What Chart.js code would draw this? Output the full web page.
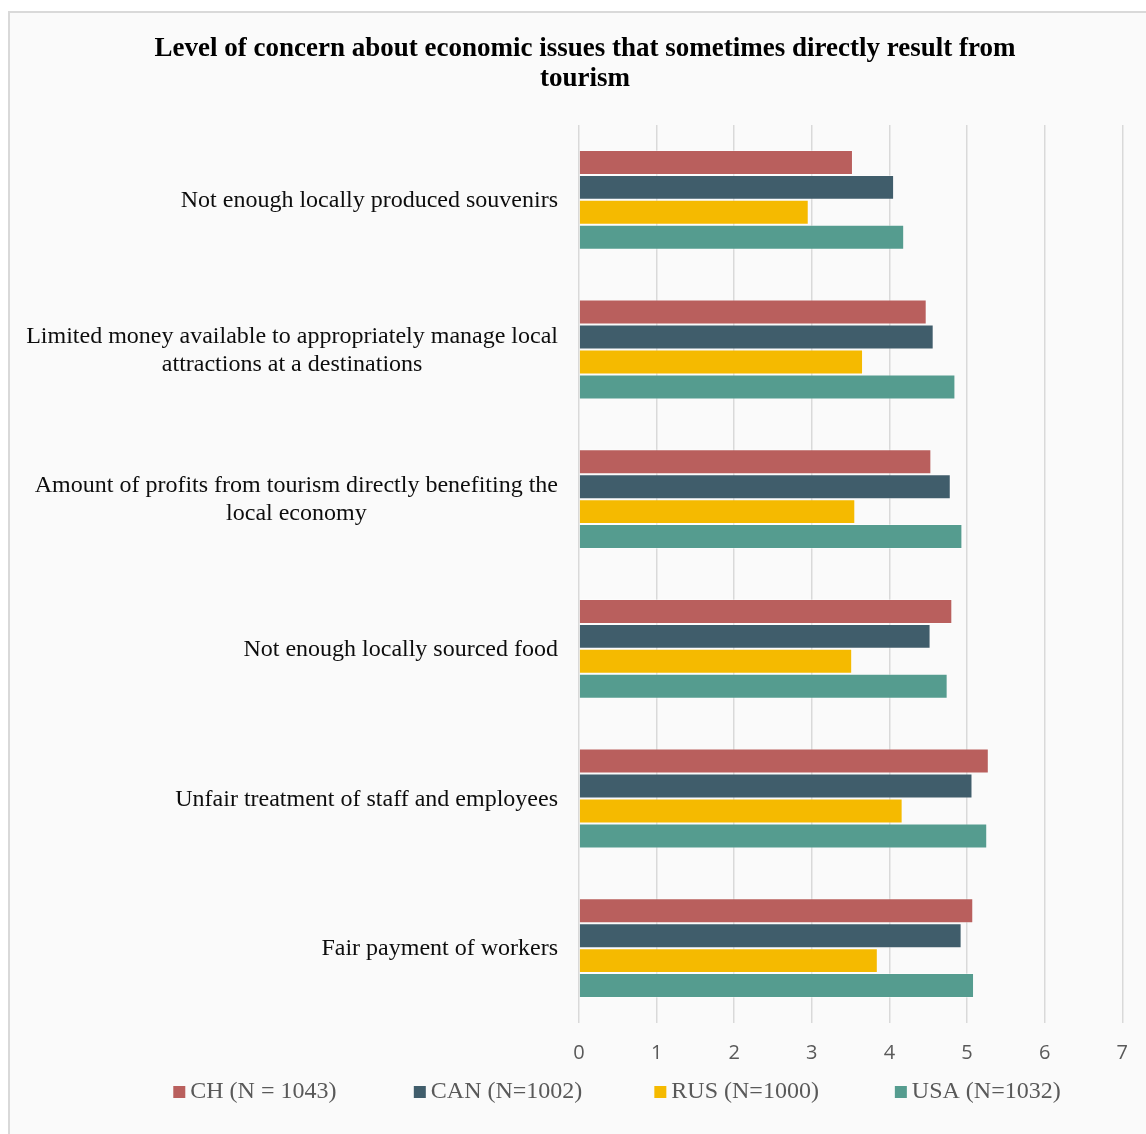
<!DOCTYPE html>
<html lang="en">
<head>
  <meta charset="UTF-8">
  <meta name="viewport" content="width=device-width, initial-scale=1.0">
  <title>Economic concerns from tourism</title>
  <script src="https://cdn.jsdelivr.net/npm/chart.js"></script>
  <style>
    body {
      margin: 0;
      background: #ffffff;
      overflow: hidden;
    }
    /* grey frame round the chart, open on the right and bottom */
    #frame {
      position: absolute;
      left: 8px;
      top: 11px;
      width: 1150px;
      height: 1130px;
      border-left: 2px solid #d9d9d9;
      border-top: 2px solid #d9d9d9;
      background: #fafafa;
    }
    #chartContainer {
      position: absolute;
      left: 0;
      top: 0;
      width: 1136px;
      height: 1121px;
    }
  </style>
</head>
<body>
  <div id="frame">
    <div id="chartContainer">
      <canvas id="concernChart"></canvas>
    </div>
  </div>

  <script>
    // Categories, top to bottom
    const categories = [
      ['Not enough locally produced souvenirs'],
      ['Limited money available to appropriately manage local', 'attractions at a destinations'],
      ['Amount of profits from tourism directly benefiting the', 'local economy'],
      ['Not enough locally sourced food'],
      ['Unfair treatment of staff and employees'],
      ['Fair payment of workers']
    ];

    // Mean level of concern per country sample
    const chValues  = [3.53, 4.48, 4.54, 4.81, 5.28, 5.08];
    const canValues = [4.06, 4.57, 4.79, 4.53, 5.07, 4.93];
    const rusValues = [2.96, 3.66, 3.56, 3.52, 4.17, 3.85];
    const usaValues = [4.19, 4.85, 4.94, 4.75, 5.26, 5.09];

    const seriesNames = ['CH (N = 1043)', 'CAN (N=1002)', 'RUS (N=1000)', 'USA (N=1032)'];
    const seriesColors = ['#b95f5d', '#405d6b', '#f5ba00', '#559c8f'];

    const xTicks = [0, 1, 2, 3, 4, 5, 6, 7];

    const serif = '"Liberation Serif", "Times New Roman", serif';

    // Category labels: block right-aligned to the axis, lines centred inside the block
    const categoryLabels = {
      id: 'categoryLabels',
      afterDraw(chart) {
        const ctx = chart.ctx;
        const yScale = chart.scales.y;
        const right = chart.chartArea.left - 21;
        const lineHeight = 28;
        ctx.save();
        ctx.font = '24px ' + serif;
        ctx.fillStyle = '#0d0d0d';
        ctx.textAlign = 'center';
        ctx.textBaseline = 'middle';
        categories.forEach(function(lines, i) {
          const yMid = yScale.getPixelForValue(i) + 1;
          const widths = lines.map(function(l) { return ctx.measureText(l).width; });
          const cx = right - Math.max.apply(null, widths) / 2;
          const y0 = yMid - (lines.length - 1) * lineHeight / 2;
          lines.forEach(function(line, j) {
            ctx.fillText(line, cx, y0 + j * lineHeight);
          });
        });
        ctx.restore();
      }
    };

    // Legend in equal-width slots under the axis
    const slotLegend = {
      id: 'slotLegend',
      afterDraw(chart) {
        const ctx = chart.ctx;
        const box = 12, gap = 5, spacing = 72;
        const centerX = 607, y = 1079;
        ctx.save();
        ctx.font = '24px ' + serif;
        ctx.textBaseline = 'middle';
        ctx.textAlign = 'left';
        const datasets = chart.data.datasets;
        const widths = datasets.map(function(d) { return box + gap + ctx.measureText(d.label).width; });
        const slot = Math.max.apply(null, widths) + spacing;
        const total = slot * (datasets.length - 1) + widths[widths.length - 1];
        let x = centerX - total / 2;
        datasets.forEach(function(d) {
          ctx.fillStyle = d.backgroundColor;
          ctx.fillRect(x, y - box / 2, box, box);
          ctx.fillStyle = '#595959';
          ctx.fillText(d.label, x + box + gap, y);
          x += slot;
        });
        ctx.restore();
      }
    };

    const valueSets = [chValues, canValues, rusValues, usaValues];

    document.addEventListener('DOMContentLoaded', function() {
      const ctx = document.getElementById('concernChart').getContext('2d');
      new Chart(ctx, {
        type: 'bar',
        data: {
          labels: categories,
          datasets: valueSets.map(function(vals, i) {
            return {
              label: seriesNames[i],
              data: vals,
              backgroundColor: seriesColors[i],
              borderColor: 'rgba(255,255,255,0.35)',
              borderWidth: 1,
              categoryPercentage: 0.667,
              barPercentage: 1.0
            };
          })
        },
        options: {
          indexAxis: 'y',
          responsive: true,
          maintainAspectRatio: false,
          animation: false,
          layout: {
            padding: { top: 0, left: 36, right: 22, bottom: 51 }
          },
          scales: {
            x: {
              min: 0,
              max: 7,
              afterBuildTicks(scale) {
                scale.ticks = xTicks.map(function(v) { return { value: v }; });
              },
              grid: {
                color: '#d9d9d9',
                lineWidth: 1.5,
                drawTicks: false
              },
              border: { display: false },
              ticks: {
                padding: 18,
                color: '#595959',
                font: { family: '"Open Sans", sans-serif', size: 20 }
              }
            },
            y: {
              grid: { display: false },
              border: { display: false },
              ticks: { display: false },
              afterFit(scale) {
                scale.width = 533;
              }
            }
          },
          plugins: {
            legend: { display: false },
            tooltip: { enabled: false },
            title: {
              display: true,
              text: [
                'Level of concern about economic issues that sometimes directly result from',
                'tourism'
              ],
              color: '#000000',
              font: { family: serif, size: 27, weight: 'bold', lineHeight: 30 / 27 },
              padding: { top: 21, bottom: 31 }
            }
          }
        },
        plugins: [categoryLabels, slotLegend]
      });
    });
  </script>
</body>
</html>
